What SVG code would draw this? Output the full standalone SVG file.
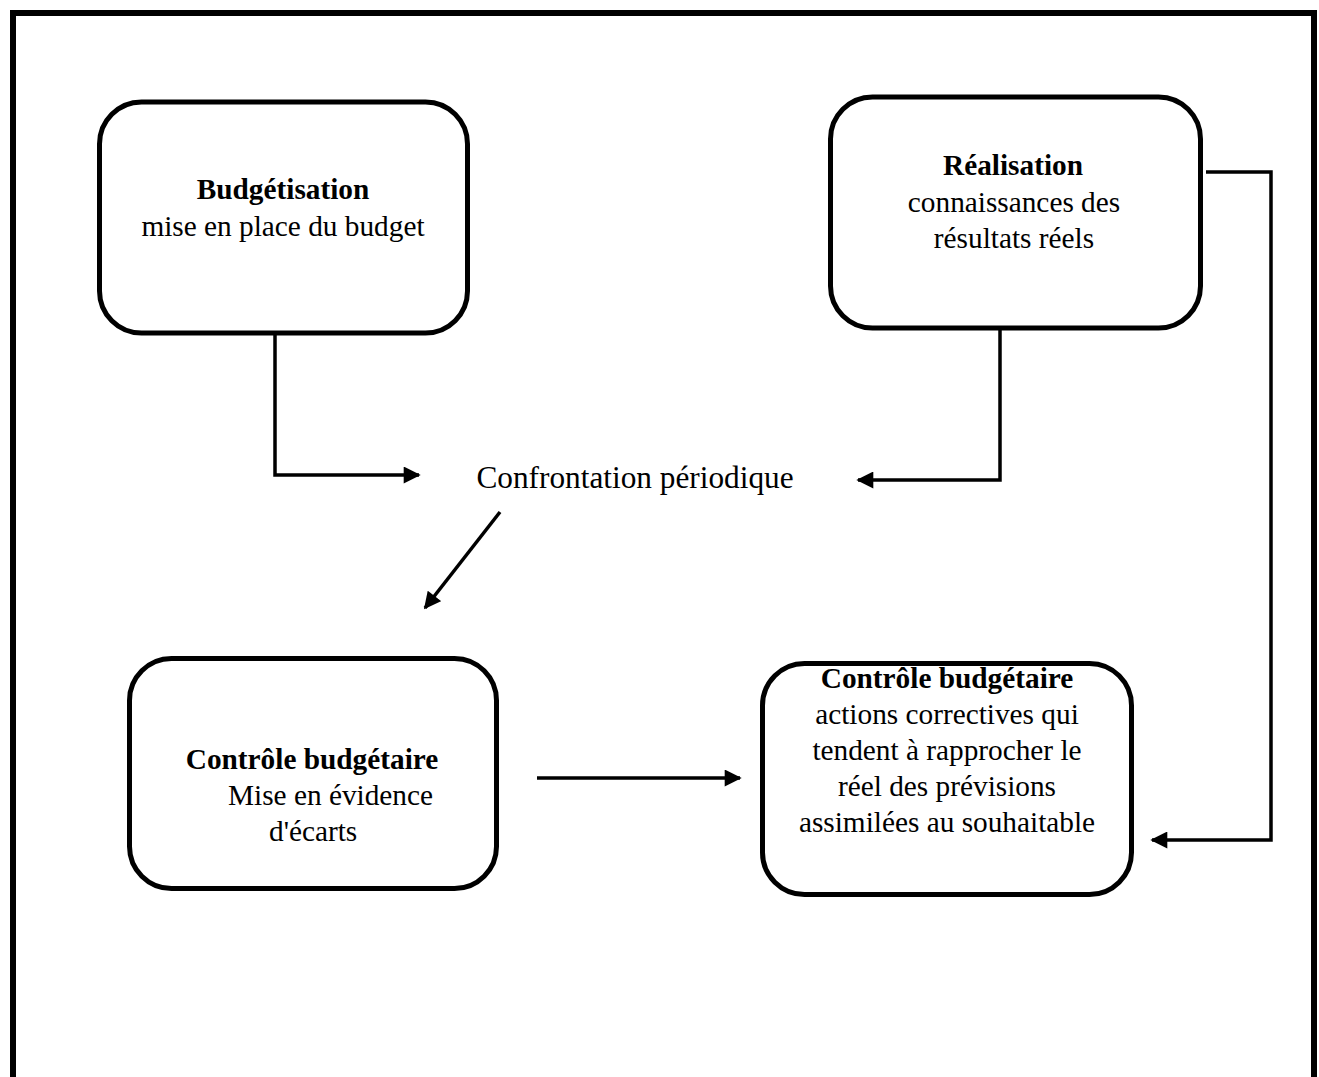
<svg xmlns="http://www.w3.org/2000/svg" width="1319" height="1077" viewBox="0 0 1319 1077">
  <style>
    .box { fill: #fff; stroke: #000; stroke-width: 5; }
    .frame { fill: none; stroke: #000; stroke-width: 6; }
    .link { fill: none; stroke: #000; stroke-width: 3.5; }
    text { font-family: "Liberation Serif", "Times New Roman", serif; font-size: 29.3px; fill: #000; }
    .big { font-size: 31.3px; }
    .c { text-anchor: middle; }
    .b { font-weight: bold; }
  </style>
  <defs>
    <marker id="arrow" viewBox="0 0 10 10" refX="9" refY="5" markerUnits="userSpaceOnUse" markerWidth="18" markerHeight="17" orient="auto">
      <path d="M0,0 L10,5 L0,10 Z" fill="#000"/>
    </marker>
  </defs>
  <rect width="1319" height="1077" fill="#fff"/>

  <!-- page frame, open at the bottom -->
  <path class="frame" d="M13,1077 L13,13 L1314,13 L1314,1077"/>

  <g id="node-budgetisation">
    <rect class="box" x="99.5" y="102" width="368" height="231" rx="42"/>
    <text class="c b" x="283" y="199">Budgétisation</text>
    <text class="c" x="283" y="236">mise en place du budget</text>
  </g>

  <g id="node-realisation">
    <rect class="box" x="830.5" y="97" width="370" height="231" rx="42"/>
    <text class="c b" x="1013" y="175">Réalisation</text>
    <text class="c" x="1014" y="212">connaissances des</text>
    <text class="c" x="1014" y="248">résultats réels</text>
  </g>

  <g id="node-confrontation">
    <text class="c big" x="635" y="488">Confrontation périodique</text>
  </g>

  <g id="node-ecarts">
    <rect class="box" x="129.5" y="658.5" width="367" height="230" rx="42"/>
    <text class="c b" x="312" y="769">Contrôle budgétaire</text>
    <text x="228" y="805">Mise en évidence</text>
    <text x="269" y="841">d'écarts</text>
  </g>

  <g id="node-actions">
    <rect class="box" x="762.5" y="663.5" width="369" height="231" rx="42"/>
    <text class="c b" x="947" y="688">Contrôle budgétaire</text>
    <text class="c" x="947" y="724">actions correctives qui</text>
    <text class="c" x="947" y="760">tendent à rapprocher le</text>
    <text class="c" x="947" y="796">réel des prévisions</text>
    <text class="c" x="947" y="832">assimilées au souhaitable</text>
  </g>

  <g id="connectors">
    <path class="link" d="M275,335 L275,475 L419,475" marker-end="url(#arrow)"/>
    <path class="link" d="M1000,330 L1000,480 L858,480" marker-end="url(#arrow)"/>
    <path class="link" d="M500,512 L425,608" marker-end="url(#arrow)"/>
    <path class="link" d="M537,778 L740,778" marker-end="url(#arrow)"/>
    <path class="link" d="M1206,172 L1271,172 L1271,840 L1152,840" marker-end="url(#arrow)"/>
  </g>
</svg>
